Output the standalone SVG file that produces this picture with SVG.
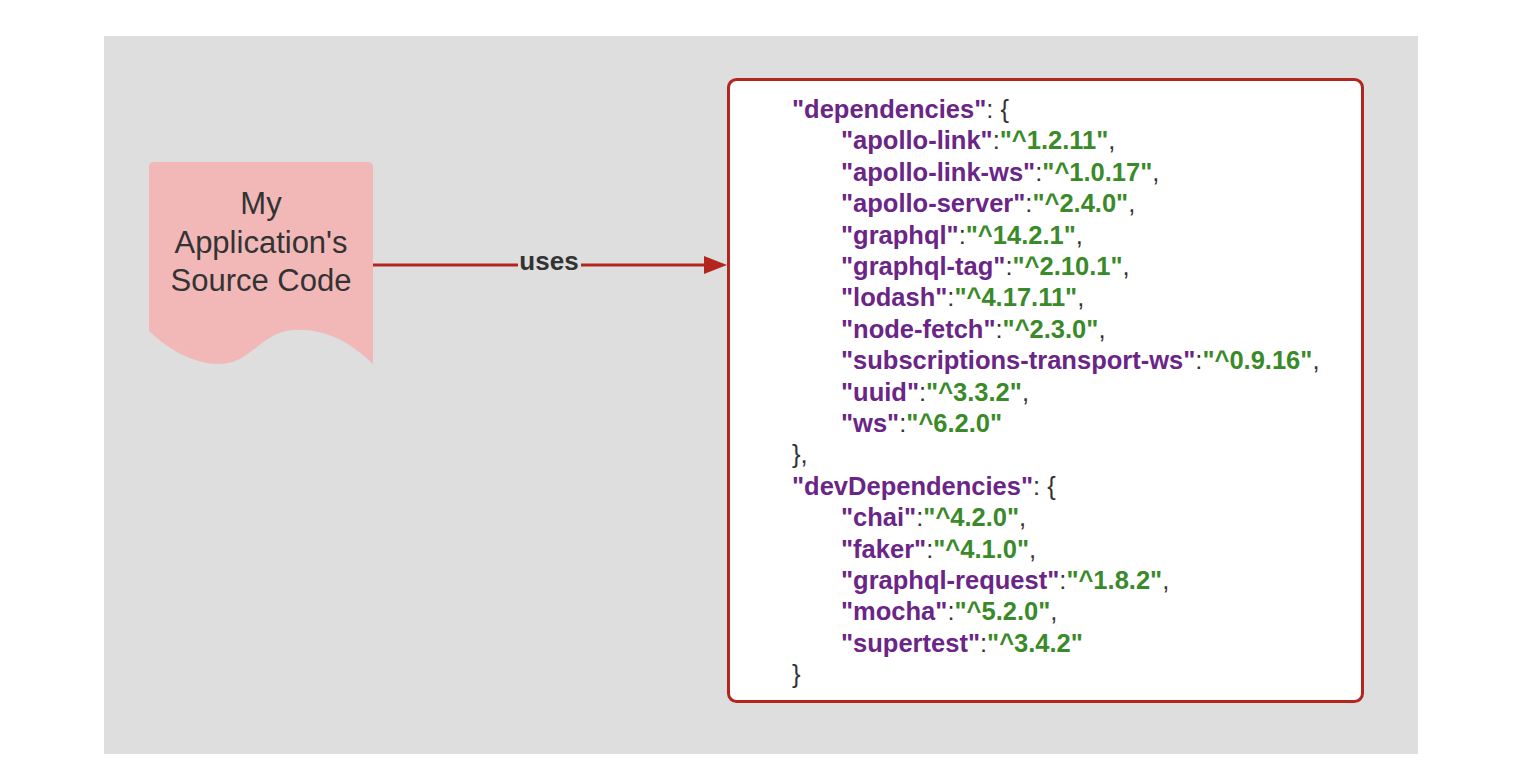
<svg xmlns="http://www.w3.org/2000/svg" width="1536" height="780" viewBox="0 0 1536 780">
<style>
.code{font-family:"Liberation Sans",Arial,sans-serif;font-size:25.5px;font-weight:bold;fill:#333}
.k{fill:#6a2587}
.v{fill:#3a8a2a}
.p{fill:#333;font-weight:normal}
.lbl{font-family:"Liberation Sans",Arial,sans-serif;fill:#333}
</style>
<rect x="0" y="0" width="1536" height="780" fill="#ffffff"/>
<rect x="104" y="36" width="1314" height="718" fill="#dedede"/>
<g id="connectors">
<path d="M373,265 L712,265" stroke="#b3261e" stroke-width="3" fill="none"/>
<path d="M704,256 L727,265 L704,274 Z" fill="#b3261e"/>
<rect x="518" y="250" width="63" height="24" fill="#dedede"/>
<text class="lbl" x="549" y="270" font-size="26" font-weight="bold" text-anchor="middle">uses</text>
</g>
<g id="source-code">
<path d="M149,167 Q149,162 154,162 L368,162 Q373,162 373,167 L373,364 C350,342 325,328 293,330 C262,332 250,364 220,364 C190,364 165,346 149,331 Z" fill="#f2b8b8"/>
<text class="lbl" font-size="31" text-anchor="middle"><tspan x="261" y="214">My</tspan><tspan x="261" y="252.5">Application's</tspan><tspan x="261" y="291">Source Code</tspan></text>
</g>
<g id="package-json">
<rect x="728.5" y="79.5" width="634" height="622" rx="8" ry="8" fill="#ffffff" stroke="#b3261e" stroke-width="3"/>
<text class="code">
<tspan x="792" y="118"><tspan class="k">"dependencies"</tspan><tspan class="p">: {</tspan></tspan>
<tspan x="841" y="149.4"><tspan class="k">"apollo-link"</tspan><tspan class="p">:</tspan><tspan class="v">"^1.2.11"</tspan><tspan class="p">,</tspan></tspan>
<tspan x="841" y="180.8"><tspan class="k">"apollo-link-ws"</tspan><tspan class="p">:</tspan><tspan class="v">"^1.0.17"</tspan><tspan class="p">,</tspan></tspan>
<tspan x="841" y="212.2"><tspan class="k">"apollo-server"</tspan><tspan class="p">:</tspan><tspan class="v">"^2.4.0"</tspan><tspan class="p">,</tspan></tspan>
<tspan x="841" y="243.6"><tspan class="k">"graphql"</tspan><tspan class="p">:</tspan><tspan class="v">"^14.2.1"</tspan><tspan class="p">,</tspan></tspan>
<tspan x="841" y="275"><tspan class="k">"graphql-tag"</tspan><tspan class="p">:</tspan><tspan class="v">"^2.10.1"</tspan><tspan class="p">,</tspan></tspan>
<tspan x="841" y="306.4"><tspan class="k">"lodash"</tspan><tspan class="p">:</tspan><tspan class="v">"^4.17.11"</tspan><tspan class="p">,</tspan></tspan>
<tspan x="841" y="337.8"><tspan class="k">"node-fetch"</tspan><tspan class="p">:</tspan><tspan class="v">"^2.3.0"</tspan><tspan class="p">,</tspan></tspan>
<tspan x="841" y="369.2"><tspan class="k">"subscriptions-transport-ws"</tspan><tspan class="p">:</tspan><tspan class="v">"^0.9.16"</tspan><tspan class="p">,</tspan></tspan>
<tspan x="841" y="400.6"><tspan class="k">"uuid"</tspan><tspan class="p">:</tspan><tspan class="v">"^3.3.2"</tspan><tspan class="p">,</tspan></tspan>
<tspan x="841" y="432"><tspan class="k">"ws"</tspan><tspan class="p">:</tspan><tspan class="v">"^6.2.0"</tspan></tspan>
<tspan x="792" y="463.4" class="p">},</tspan>
<tspan x="792" y="494.8"><tspan class="k">"devDependencies"</tspan><tspan class="p">: {</tspan></tspan>
<tspan x="841" y="526.2"><tspan class="k">"chai"</tspan><tspan class="p">:</tspan><tspan class="v">"^4.2.0"</tspan><tspan class="p">,</tspan></tspan>
<tspan x="841" y="557.6"><tspan class="k">"faker"</tspan><tspan class="p">:</tspan><tspan class="v">"^4.1.0"</tspan><tspan class="p">,</tspan></tspan>
<tspan x="841" y="589"><tspan class="k">"graphql-request"</tspan><tspan class="p">:</tspan><tspan class="v">"^1.8.2"</tspan><tspan class="p">,</tspan></tspan>
<tspan x="841" y="620.4"><tspan class="k">"mocha"</tspan><tspan class="p">:</tspan><tspan class="v">"^5.2.0"</tspan><tspan class="p">,</tspan></tspan>
<tspan x="841" y="651.8"><tspan class="k">"supertest"</tspan><tspan class="p">:</tspan><tspan class="v">"^3.4.2"</tspan></tspan>
<tspan x="792" y="683.2" class="p">}</tspan>
</text>
</g>
</svg>
